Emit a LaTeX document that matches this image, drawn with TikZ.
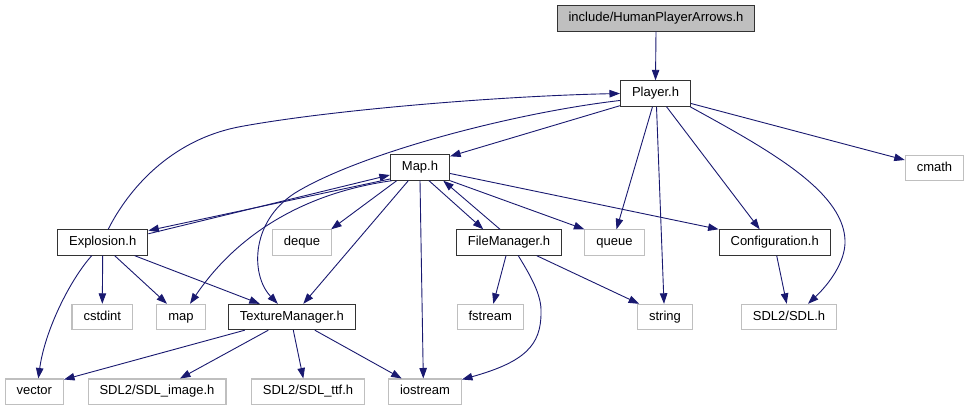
\documentclass[tikz,border=0pt]{standalone}
\usepackage{fontspec}
\setmainfont{Liberation Sans}
\usetikzlibrary{arrows.meta}
\definecolor{edgeblue}{HTML}{191970}
\definecolor{boxgray}{HTML}{BFBFBF}

\begin{document}
\begin{tikzpicture}[x=1pt, y=-1pt, >={Triangle[length=10.5pt, width=7.5pt]},
  box/.style={draw, line width=1.1pt, inner xsep=11.5pt, inner ysep=0pt,
    minimum height=25.3pt, text height=9.4pt, text depth=3pt,
    font=\fontsize{13}{15}\selectfont},
  header/.style={box, draw=black!80},
  extern/.style={box, draw=boxgray},
  current/.style={header, fill=boxgray},
  link/.style={->, edgeblue, line width=0.9pt}]
  \useasboundingbox (0,0) rectangle (969,411);
  % Row 1 and 2
  \node[current] (top) at (656,18.5) {include/HumanPlayerArrows.h};
  \node[header] (player) at (655.5,93.5) {Player.h};
  % Row 3
  \node[header] (map) at (420,167.5) {Map.h};
  \node[extern] (cmath) at (934.5,168) {cmath};
  % Row 4
  \node[header] (explosion) at (102.7,242.5) {Explosion.h};
  \node[extern] (deque) at (302,242.5) {deque};
  \node[header] (filemgr) at (509,242.5) {FileManager.h};
  \node[extern] (queue) at (614.5,242.5) {queue};
  \node[header] (config) at (774.7,242.5) {Configuration.h};
  % Row 5
  \node[extern] (cstdint) at (102.3,317) {cstdint};
  \node[extern] (stdmap) at (181,317) {map};
  \node[header] (texmgr) at (291.8,317) {TextureManager.h};
  \node[extern] (fstream) at (490.3,317) {fstream};
  \node[extern] (string) at (665,317) {string};
  \node[extern] (sdl) at (789,317) {SDL2/SDL.h};
  % Row 6
  \node[extern] (vector) at (34.3,391.7) {vector};
  \node[extern] (sdlimage) at (157,391.7) {SDL2/SDL\_image.h};
  \node[extern] (sdlttf) at (308,391.7) {SDL2/SDL\_ttf.h};
  \node[extern] (iostream) at (425,391.7) {iostream};

  % Player.h includes
  \draw[link] (top.south) -- (player.north);
  \draw[link] ([yshift=1pt]player.south west) -- ([yshift=-2pt]map.north east);
  \draw[link] ([xshift=-3pt]player.south) -- ([xshift=2pt]queue.north);
  \draw[link] ([xshift=1pt]player.south) -- ([xshift=-1pt]string.north);
  \draw[link] ([xshift=11pt]player.south) -- ([xshift=-15pt]config.north);
  \draw[link] ([yshift=-10pt]player.east) -- ([yshift=8pt]cmath.west);
  \draw[link] ([xshift=-1pt]player.south east) .. controls (765,148) and (843,190) .. (845,240)
    .. controls (846,262) and (828,285) .. ([xshift=19pt]sdl.north);
  \draw[link] ([yshift=-7pt]player.west) .. controls (520,112) and (370,150) .. (300,190)
    .. controls (250,218) and (250,275) .. ([xshift=-14pt]texmgr.north);
  % Explosion.h back to Player.h
  \draw[link] ([xshift=5.5pt]explosion.north) .. controls (128,190) and (170,140) .. (240,126.7)
    .. controls (330,110) and (500,96) .. (player.west);

  % Map.h includes
  \draw[link] ([yshift=-11.5pt]map.west) -- ([yshift=-1.3pt]explosion.north east);
  \draw[link] ([yshift=-4.5pt]explosion.north east) -- ([yshift=-7.5pt]map.west);
  \draw[link] ([xshift=2pt]map.south west) .. controls (310,192) and (240,230) .. ([xshift=9pt]stdmap.north);
  \draw[link] ([xshift=-23.3pt]map.south) -- ([xshift=-1pt]deque.north east);
  \draw[link] ([xshift=-11.7pt]map.south) -- ([xshift=11.5pt]texmgr.north);
  \draw[link] (map.south) -- ([xshift=-1.7pt]iostream.north);
  \draw[link] ([xshift=9pt]map.south) -- ([xshift=-25.7pt]filemgr.north);
  \draw[link] ([xshift=-9pt]filemgr.north) -- ([xshift=23.3pt]map.south);
  \draw[link] (map.south east) -- (queue.north west);
  \draw[link] ([yshift=-6pt]map.east) -- (config.north west);

  % Explosion.h includes
  \draw[link] ([xshift=-11pt]explosion.south) .. controls (70,280) and (45,330) .. ([xshift=4pt]vector.north);
  \draw[link] (explosion.south) -- (cstdint.north);
  \draw[link] ([xshift=12pt]explosion.south) -- ([xshift=-14pt]stdmap.north);
  \draw[link] ([xshift=32pt]explosion.south) -- ([xshift=-32pt]texmgr.north);

  % TextureManager.h includes
  \draw[link] ([xshift=-47pt]texmgr.south) -- ([yshift=-1pt]vector.north east);
  \draw[link] ([xshift=-23.5pt]texmgr.south) -- ([xshift=23pt]sdlimage.north);
  \draw[link] ([xshift=1.5pt]texmgr.south) -- ([xshift=-4.7pt]sdlttf.north);
  \draw[link] ([xshift=23pt]texmgr.south) -- ([xshift=-23.3pt]iostream.north);

  % FileManager.h and Configuration.h includes
  \draw[link] ([xshift=-3pt]filemgr.south) -- ([xshift=3pt]fstream.north);
  \draw[link] ([xshift=9.3pt]filemgr.south) .. controls (530,275) and (542,295) .. (541,313)
    .. controls (541,345) and (525,362) .. ([yshift=-1pt]iostream.north east);
  \draw[link] ([xshift=27.7pt]filemgr.south) -- ([xshift=2pt]string.north west);
  \draw[link] ([xshift=2pt]config.south) -- ([xshift=-2.3pt]sdl.north);
\end{tikzpicture}
\end{document}
